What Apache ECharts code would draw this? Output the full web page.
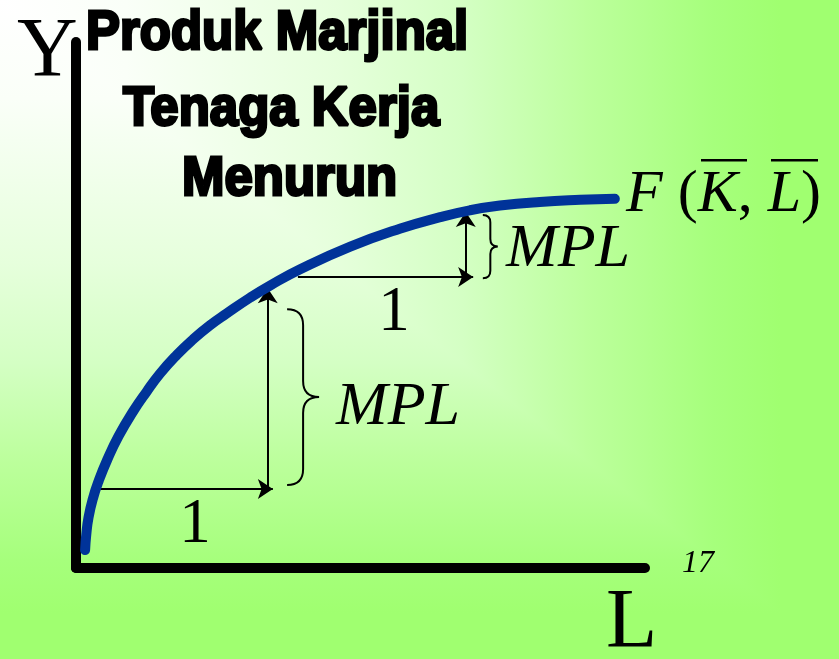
<!DOCTYPE html>
<html>
<head>
<meta charset="utf-8">
<script src="https://cdn.jsdelivr.net/npm/echarts@6/dist/echarts.min.js"></script>
<style>
  html, body { margin: 0; padding: 0; width: 839px; height: 659px; overflow: hidden; }
  #chart { width: 839px; height: 659px; }
</style>
</head>
<body>
<div id="chart"></div>
<script>
// Production function: labour input (L) against output (Y)
const labourInput = [0.16, 0.18, 0.22, 0.30, 0.40, 0.55, 0.75, 1.00, 1.24, 1.48, 1.77, 2.06, 2.35, 2.65, 3.06, 3.41, 3.94, 4.82, 5.69, 6.40, 6.92, 7.45, 8.15, 8.86, 9.47];
const output      = [0.34, 0.63, 0.96, 1.33, 1.66, 2.06, 2.51, 2.97, 3.35, 3.70, 4.05, 4.35, 4.61, 4.84, 5.14, 5.37, 5.68, 6.11, 6.45, 6.67, 6.80, 6.89, 6.96, 7.00, 7.02];

// One extra unit of labour and the matching rise in output (MPL)
const stepStartL = [0.40, 3.90];
const stepEndL   = [3.46, 6.98];
const stepBaseY  = [1.50, 5.53];
const riseL      = [3.37, 6.85];
const riseTopY   = [5.32, 6.77];

// Braces marking each MPL rise: [L, lower Y, upper Y]
const braceL     = [3.71, 7.15];
const braceLowY  = [1.58, 5.51];
const braceHighY = [4.92, 6.71];

const titleLines = ['Produk Marjinal', 'Tenaga Kerja', 'Menurun'];
const axisNames  = { y: 'Y', x: 'L' };
const pageNumber = '17';

const W = 839, H = 659;
const chart = echarts.init(document.getElementById('chart'), null, { renderer: 'canvas' });

const curve = labourInput.map((l, i) => [l, output[i]]);
const arrows = [];
stepStartL.forEach((s, i) => {
  arrows.push({ coords: [[s, stepBaseY[i]], [stepEndL[i], stepBaseY[i]]] });
  arrows.push({ coords: [[riseL[i], stepBaseY[i]], [riseL[i], riseTopY[i]]] });
});
const braces = braceL.map((l, i) => [l, braceLowY[i], braceHighY[i]]);
const braceWidths = [32, 15];

const bgStops = [
  { offset: 0, color: '#ffffff' },
  { offset: 0.15, color: '#fafff8' },
  { offset: 0.40, color: '#e6ffdc' },
  { offset: 0.55, color: '#d4ffc4' },
  { offset: 0.70, color: '#bcff9c' },
  { offset: 0.85, color: '#a6ff7c' },
  { offset: 0.93, color: '#a0ff70' },
  { offset: 1, color: '#a0ff70' }
];

const serif = '"Liberation Serif", "Times New Roman", serif';
const titleFont = 'bold 56px "Liberation Sans", Arial, sans-serif';
const titleLefts = [86, 123, 182];
const titleMids = [34, 110, 180];

function label(text, x, y, font, align) {
  return {
    type: 'text', z: 10,
    style: { text, x, y, font, fill: '#000', align: align || 'left', verticalAlign: 'middle' }
  };
}

const graphics = [
  // corner gradient backdrop: vertical ramp, then horizontal ramp above the diagonal
  { type: 'rect', z: -10, silent: true, shape: { x: 0, y: 0, width: W, height: H },
    style: { fill: { type: 'linear', x: 0, y: 0, x2: 0, y2: H, global: true, colorStops: bgStops } } },
  { type: 'polygon', z: -9, silent: true, shape: { points: [[0, 0], [W, 0], [W, H]] },
    style: { fill: { type: 'linear', x: 0, y: 0, x2: W, y2: 0, global: true, colorStops: bgStops } } },
  label(axisNames.y, 17, 54, '84px ' + serif),
  label(axisNames.x, 606, 625, '84px ' + serif),
  label(pageNumber, 682, 564, 'italic 32px ' + serif),
  label('1', 195, 525, '63px ' + serif, 'center'),
  label('1', 394, 313, '63px ' + serif, 'center'),
  label('MPL', 336, 408, 'italic 62px ' + serif),
  label('MPL', 506, 250, 'italic 62px ' + serif),
  {
    type: 'text', z: 10,
    style: {
      text: '{i|F}{r| (}{i|K}{r|, }{i|L}{r|)}', x: 626, y: 195, verticalAlign: 'middle',
      rich: {
        i: { font: 'italic 60px ' + serif, fill: '#000' },
        r: { font: '60px ' + serif, fill: '#000' }
      }
    }
  },
  { type: 'rect', z: 10, shape: { x: 701, y: 159, width: 46, height: 2.5 }, style: { fill: '#000' } },
  { type: 'rect', z: 10, shape: { x: 771, y: 159, width: 47, height: 2.5 }, style: { fill: '#000' } }
];

titleLines.forEach((t, i) => {
  graphics.push({
    type: 'text', z: 12, x: titleLefts[i], y: titleMids[i], scaleX: 0.91,
    style: { text: t, x: 0, y: 0, font: titleFont, fill: '#000', stroke: '#000', lineWidth: 3,
             align: 'left', verticalAlign: 'middle' }
  });
});

function renderBrace(params, api) {
  const w = braceWidths[params.dataIndex];
  const top = api.coord([api.value(0), api.value(2)]);
  const bot = api.coord([api.value(0), api.value(1)]);
  const x0 = top[0], x1 = x0 + w / 2, x2 = x0 + w;
  const yt = top[1], yb = bot[1], ym = (yt + yb) / 2;
  const r = Math.min(w / 2, (yb - yt) / 4);
  const d = `M${x0} ${yt} Q${x1} ${yt} ${x1} ${yt + r} L${x1} ${ym - r} Q${x1} ${ym} ${x2} ${ym} ` +
            `Q${x1} ${ym} ${x1} ${ym + r} L${x1} ${yb - r} Q${x1} ${yb} ${x0} ${yb}`;
  return { type: 'path', shape: { pathData: d }, style: { fill: 'none', stroke: '#000', lineWidth: 2 } };
}

chart.setOption({
  backgroundColor: 'transparent',
  animation: false,
  graphic: graphics,
  grid: { left: 76, top: 42, width: 569, height: 526, containLabel: false },
  xAxis: {
    type: 'value', min: 0, max: 10,
    axisLine: { show: true, onZero: false, lineStyle: { color: '#000', width: 10 } },
    axisTick: { show: false }, axisLabel: { show: false }, splitLine: { show: false }
  },
  yAxis: {
    type: 'value', min: 0, max: 10,
    axisLine: { show: true, onZero: false, lineStyle: { color: '#000', width: 10 } },
    axisTick: { show: false }, axisLabel: { show: false }, splitLine: { show: false }
  },
  series: [
    {
      type: 'line', data: curve, smooth: 0.5, showSymbol: false, z: 5,
      lineStyle: { color: '#003399', width: 10, cap: 'round', join: 'round' }
    },
    {
      type: 'lines', coordinateSystem: 'cartesian2d', z: 4,
      symbol: ['none', 'arrow'], symbolSize: [13, 15],
      lineStyle: { color: '#000', width: 2, opacity: 1 },
      data: arrows
    },
    {
      type: 'custom', renderItem: renderBrace, data: braces, z: 4, silent: true
    }
  ]
});
</script>
</body>
</html>
